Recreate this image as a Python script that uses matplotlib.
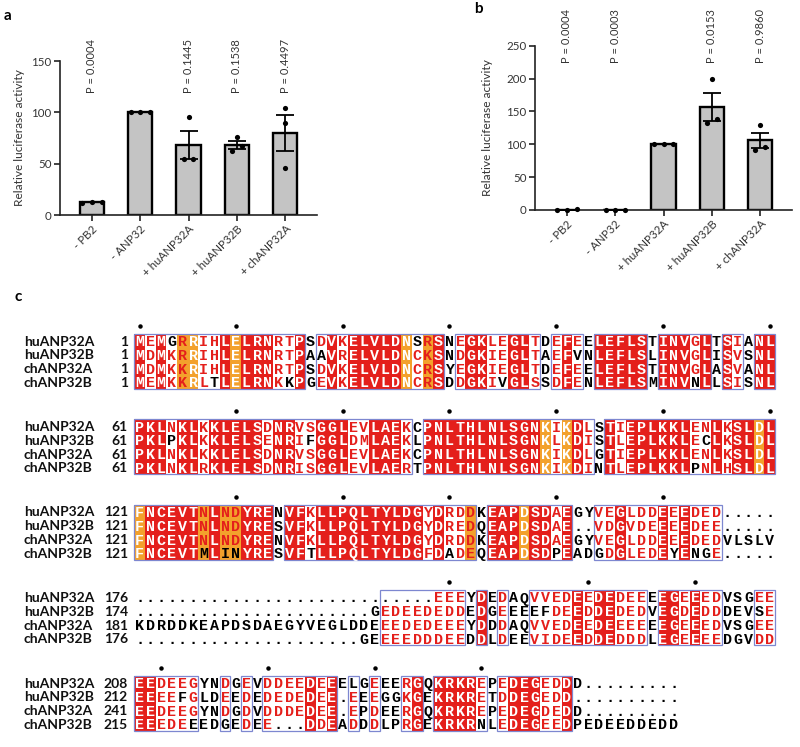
import numpy as np
import matplotlib
matplotlib.use("Agg")
import matplotlib.pyplot as plt
from matplotlib.patches import Rectangle

plt.rcParams['font.family'] = ['Lato', 'DejaVu Sans']

# ---------------- data: panels a and b ----------------
categories = ["- PB2", "- ANP32", "+ huANP32A", "+ huANP32B", "+ chANP32A"]
a_replicates = [[12, 13, 12.5], [100, 100, 100], [95, 55, 55], [76, 67, 62], [104, 90, 45.5]]
a_pvalues = ["P = 0.0004", "", "P = 0.1445", "P = 0.1538", "P = 0.4497"]
a_yticks = [0, 50, 100, 150]
b_replicates = [[0.6, 0.8, 0.5], [0, 0, 0], [100, 100, 100], [200, 138, 133], [129, 92, 96.5]]
b_pvalues = ["P = 0.0004", "P = 0.0003", "", "P = 0.0153", "P = 0.9860"]
b_yticks = [0, 50, 100, 150, 200, 250]

# ---------------- data: panel c (alignment) ----------------
seq_names = ["huANP32A", "huANP32B", "chANP32A", "chANP32B"]
block1 = ["MEMGRRIHLELRNRTPSDVKELVLDNSRSNEGKLEGLTDEFEELEFLSTINVGLTSIANL",
          "MDMKRRIHLELRNRTPAAVRELVLDNCKSNDGKIEGLTAEFVNLEFLSLINVGLISVSNL",
          "MDMKKRIHLELRNRTPSDVKELVLDNCRSYEGKIEGLTDEFEELEFLSTINVGLASVANL",
          "MEMKKRLTLELRNKKPGEVKELVLDNCRSDDGKIVGLSSDFENLEFLSMINVNLLSISNL"]
block2 = ["PKLNKLKKLELSDNRVSGGLEVLAEKCPNLTHLNLSGNKIKDLSTIEPLKKLENLKSLDL",
          "PKLPKLKKLELSENRIFGGLDMLAEKLPNLTHLNLSGNKLKDISTLEPLKKLECLKSLDL",
          "PKLNKLKKLELSDNRVSGGLEVLAEKCPNLTHLNLSGNKIKDLGTIEPLKKLENLKSLDL",
          "PKLNKLRKLELSDNRISGGLEVLAERTPNLTHLNLSGNKIKDINTLEPLKKLPNLHSLDL"]
block3 = ["FNCEVTNLNDYRENVFKLLPQLTYLDGYDRDDKEAPDSDAEGYVEGLDDEEEDED.....",
          "FNCEVTNLNDYRESVFKLLPQLTYLDGYDREDQEAPDSDAE..VDGVDEEEEDEE.....",
          "FNCEVTNLNDYRENVFKLLPQLTYLDGYDRDDKEAPDSDAEGYVEGLDDEEEDEDVLSLV",
          "FNCEVTMLINYRESVFTLLPQLTYLDGFDADEQEAPDSDPEADGDGLEDEYENGE....."]
block4 = ["............................EEEYDEDAQVVEDEEDEDEEEEGEEEDVSGEE",
          "......................GEDEEDEDDEDGEEEEFDEEDDEDEDVEGDEDDDEVSE",
          "KDRDDKEAPDSDAEGYVEGLDDEEEDEDEEEYDDDAQVVEDEEDEEEEEEGEEEDVSGEE",
          ".....................GEEEEDDDEEDDLDEEVIDEEDDEDDDLEGEEEEDGVDD"]
block5 = ["EEDEEGYNDGEVDDEEDEEELGEEERGQKRKREPEDEGEDDD.........",
          "EEEEFGLDEEDEDEDEDEE.EEEGGKGEKRKRETDDEGEDD..........",
          "EEDEEGYNDGDVDDDEDEE.EPDEERGQKRKREPEDEGDEDD.........",
          "EEEDEEEDGEDEE...DDEADDDLPRGEKRKRNLEDEGEEDPEDEEDDEDD"]
blocks = [block1, block2, block3, block4, block5]
start_numbers = [[1, 1, 1, 1], [61, 61, 61, 61], [121, 121, 121, 121],
                 [176, 174, 181, 176], [208, 212, 241, 215]]
orange_columns = [[5, 6, 10, 26, 28], [39, 41, 59], [1, 7, 9, 10, 32, 37], [], []]
dot_columns = [[1, 10, 20, 30, 40, 50, 60], [10, 20, 30, 40, 50, 60],
               [10, 20, 30, 40, 50], [30, 43, 53], [3, 13, 23, 33]]

# ---------------- figure ----------------
W, H = 800, 747
fig = plt.figure(figsize=(W / 100, H / 100), dpi=100)

RED = '#e41f1b'
ORANGE = '#f3a12c'
BOXC = '#7d87d0'
GRAY = '#333333'

axc = fig.add_axes([0, 0, 1, 1])
axc.set_xlim(0, W)
axc.set_ylim(H, 0)
axc.axis('off')

for lab, (x, y) in zip("abc", [(8, 16), (478, 9), (18, 297)]):
    axc.text(x, y, lab, fontsize=11, fontweight='bold', ha='center', va='center', color='black')


def spread(vals, tol, step):
    vals = np.asarray(vals, dtype=float)
    order = np.argsort(vals)
    clusters = []
    for i in order:
        if clusters and abs(vals[i] - vals[clusters[-1][-1]]) < tol:
            clusters[-1].append(i)
        else:
            clusters.append([i])
    offs = np.zeros(len(vals))
    for c in clusters:
        n = len(c)
        for k, i in enumerate(c):
            offs[i] = (k - (n - 1) / 2) * step
    return offs


def bar_panel(rect, reps, pvals, yticks, plabel_y, ylabel_x):
    ax = fig.add_axes(rect)
    x = np.arange(len(categories))
    means = np.array([np.mean(r) for r in reps])
    sems = np.array([np.std(r, ddof=1) / np.sqrt(len(r)) for r in reps])
    ymax = yticks[-1]
    ax.bar(x, means, width=0.5, color='#c4c4c4', edgecolor='black', linewidth=1.7, zorder=2)
    ax.errorbar(x, means, yerr=sems, fmt='none', ecolor='black', elinewidth=1.3,
                capsize=6.5, capthick=1.3, zorder=3)
    for i, r in enumerate(reps):
        offs = spread(r, 0.034 * ymax, 0.2)
        ax.scatter(i + offs, r, s=14, color='black', zorder=4, clip_on=False, linewidths=0)
    for i, t in enumerate(pvals):
        if t:
            ax.text(i, plabel_y, t, rotation=90, ha='center', va='bottom', fontsize=8,
                    color=GRAY, clip_on=False)
    ax.set_xlim(-0.66, 4.66)
    ax.set_ylim(0, ymax)
    ax.set_yticks(yticks)
    ax.set_xticks(x)
    ax.set_xticklabels(categories, rotation=45, ha='right', rotation_mode='anchor')
    for s in ['top', 'right']:
        ax.spines[s].set_visible(False)
    for s in ['left', 'bottom']:
        ax.spines[s].set_linewidth(1.2)
        ax.spines[s].set_color('#222222')
    ax.tick_params(direction='out', length=4, width=1.2, labelsize=8.3, colors='#222222',
                   labelcolor=GRAY, pad=2)
    ax.set_ylabel('Relative luciferase activity', fontsize=8.6, color=GRAY)
    ax.yaxis.set_label_coords(ylabel_x, 0.5)
    ax.patch.set_alpha(0)
    return ax


bar_panel([60 / W, 1 - 215 / H, 257 / W, 154 / H], a_replicates, a_pvalues, a_yticks, 119, -0.136)
bar_panel([535 / W, 1 - 210 / H, 257 / W, 164.3 / H], b_replicates, b_pvalues, b_yticks, 224, -0.163)

# ---------------- alignment ----------------
GROUPS = ['ILVM', 'FYW', 'KRH', 'DE', 'ST', 'NQ']


def grp(c):
    for g in GROUPS:
        if c in g:
            return g
    return c


X0, CW = 134.3, 10.68
ROW1 = [340.5, 426.0, 511.5, 597.0, 682.5]
RH = 13.8

for b, rows in enumerate(blocks):
    ncol = max(len(r) for r in rows)
    ytop = ROW1[b] - RH / 2
    classes = []
    for j in range(ncol):
        res = [r[j] for r in rows if j < len(r) and r[j] not in '. ']
        if len(res) == len(rows) and len(set(res)) == 1:
            classes.append(('id', res[0]))
            continue
        counts = {}
        for c in res:
            counts[grp(c)] = counts.get(grp(c), 0) + 1
        best = max(counts, key=counts.get) if counts else None
        if best is not None and counts[best] >= 3:
            classes.append(('sim', best))
        else:
            classes.append(('none', None))
    # backgrounds
    for j, (cls, g) in enumerate(classes):
        is_or = (j + 1) in orange_columns[b]
        if is_or:
            axc.add_patch(Rectangle((X0 + j * CW, ytop), CW, RH * len(rows), color=ORANGE, lw=0, zorder=1))
        elif cls == 'id':
            axc.add_patch(Rectangle((X0 + j * CW, ytop), CW, RH * len(rows), color=RED, lw=0, zorder=1))
    # boxes around runs of conserved columns
    j = 0
    while j < ncol:
        if classes[j][0] != 'none':
            s = j
            while j < ncol and classes[j][0] != 'none':
                j += 1
            axc.add_patch(Rectangle((X0 + s * CW, ytop), (j - s) * CW, RH * len(rows),
                                    fill=False, ec=BOXC, lw=0.9, zorder=3))
        else:
            j += 1
    # letters
    for r, seq in enumerate(rows):
        y = ROW1[b] + r * RH
        axc.text(24, y, seq_names[r], ha='left', va='center_baseline', fontsize=10,
                 fontweight='bold', color='#111111')
        axc.text(128, y, str(start_numbers[b][r]), ha='right', va='center_baseline', fontsize=10,
                 fontweight='bold', color='#111111')
        for j, ch in enumerate(seq):
            cls, g = classes[j]
            if ch == '.':
                col = 'black'
            elif cls == 'id':
                col = 'white'
            elif cls == 'sim' and grp(ch) == g:
                col = RED
            else:
                col = 'black'
            axc.text(X0 + (j + 0.5) * CW, y, ch, ha='center', va='center_baseline',
                     fontsize=10.8, fontweight='bold', family='Liberation Mono', color=col, zorder=4)
    for c in dot_columns[b]:
        axc.plot([X0 + (c - 0.5) * CW], [ROW1[b] - 15], 'o', ms=2.2, color='black', zorder=4)

fig.savefig('out.png', dpi=100)
